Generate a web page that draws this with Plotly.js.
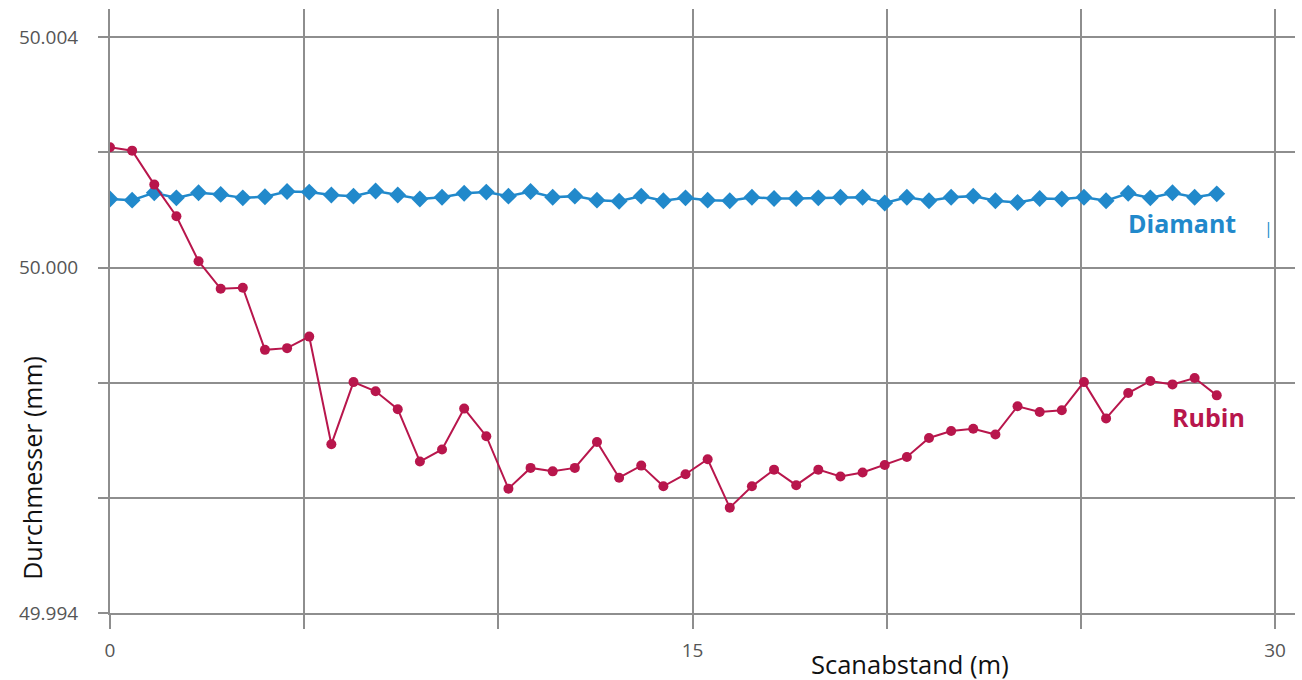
<!DOCTYPE html>
<html>
<head>
<meta charset="utf-8">
<script src="https://cdn.plot.ly/plotly-3.0.1.min.js"></script>
<style>
  html, body { margin: 0; padding: 0; background: #fff; }
  #chart { width: 1302px; height: 680px; }
</style>
</head>
<body>
<div id="chart"></div>
<script>
// Scan positions along the bore (m)
const scanDistance = [0, 0.57, 1.14, 1.71, 2.28, 2.85, 3.42, 3.99, 4.56, 5.13,
  5.7, 6.27, 6.84, 7.41, 7.98, 8.55, 9.12, 9.69, 10.26, 10.83,
  11.4, 11.97, 12.54, 13.11, 13.68, 14.25, 14.82, 15.39, 15.96, 16.53,
  17.1, 17.67, 18.24, 18.81, 19.38, 19.95, 20.52, 21.09, 21.66, 22.23,
  22.8, 23.37, 23.94, 24.51, 25.08, 25.65, 26.22, 26.79, 27.36, 27.93, 28.5];

// Measured diameter with the diamond stylus (mm)
const diamant = [50.00119, 50.00117, 50.00130, 50.00121, 50.00130, 50.00127, 50.00121, 50.00123, 50.00132, 50.00131,
  50.00126, 50.00124, 50.00133, 50.00126, 50.00119, 50.00122, 50.00129, 50.00131, 50.00124, 50.00132,
  50.00122, 50.00124, 50.00117, 50.00115, 50.00124, 50.00116, 50.00121, 50.00117, 50.00116, 50.00122,
  50.00120, 50.00120, 50.00121, 50.00122, 50.00122, 50.00112, 50.00122, 50.00116, 50.00122, 50.00124,
  50.00116, 50.00113, 50.00120, 50.00119, 50.00122, 50.00116, 50.00129, 50.00121, 50.00130, 50.00122, 50.00128];

// Measured diameter with the ruby stylus (mm)
const rubin = [50.00209, 50.00203, 50.00144, 50.00089, 50.00011, 49.99963, 49.99965, 49.99857, 49.99860, 49.99880,
  49.99693, 49.99801, 49.99785, 49.99754, 49.99663, 49.99684, 49.99755, 49.99707, 49.99616, 49.99652,
  49.99646, 49.99652, 49.99697, 49.99635, 49.99656, 49.99620, 49.99641, 49.99667, 49.99583, 49.99620,
  49.99649, 49.99622, 49.99649, 49.99637, 49.99644, 49.99657, 49.99671, 49.99704, 49.99716, 49.99720,
  49.99710, 49.99759, 49.99749, 49.99752, 49.99801, 49.99738, 49.99782, 49.99803, 49.99797, 49.99808, 49.99778];

// Axis ticks and labels
const xTickVals = [0, 5, 10, 15, 20, 25, 30];
const xTickText = ['0', '', '', '15', '', '', '30'];
const yTickVals = [49.994, 49.996, 49.998, 50.000, 50.002, 50.004];
const yTickText = ['49.994', '', '', '50.000', '', '50.004'];

const blue = '#2189cb';
const ruby = '#b8164c';
const grid = '#8e8e8e';
const font = 'Open Sans, Noto Sans, sans-serif';

const traces = [
  {
    x: scanDistance, y: diamant, name: 'Diamant',
    type: 'scatter', mode: 'lines+markers',
    line: { color: blue, width: 2.5 },
    marker: { symbol: 'diamond', size: 13, color: blue },
    hoverinfo: 'x+y'
  },
  {
    x: scanDistance, y: rubin, name: 'Rubin',
    type: 'scatter', mode: 'lines+markers',
    line: { color: ruby, width: 2 },
    marker: { symbol: 'circle', size: 10, color: ruby },
    hoverinfo: 'x+y'
  }
];

const layout = {
  width: 1302, height: 680,
  margin: { l: 110, r: 7, t: 9, b: 67, pad: 0 },
  paper_bgcolor: '#ffffff', plot_bgcolor: '#ffffff',
  showlegend: false,
  font: { family: font, color: '#555555', size: 19 },
  xaxis: {
    range: [0, 30.515],
    tickvals: xTickVals, ticktext: xTickText,
    ticks: 'outside', ticklen: 14, tickwidth: 2, tickcolor: grid,
    showgrid: true, gridcolor: grid, gridwidth: 2,
    zeroline: false,
    showline: true, linecolor: grid, linewidth: 2,
    ticklabelstandoff: 5,
    tickfont: { family: font, size: 19, color: '#555555' }
  },
  yaxis: {
    range: [49.994, 50.00449],
    tickvals: yTickVals, ticktext: yTickText,
    ticks: 'outside', ticklen: 10, tickwidth: 2, tickcolor: grid,
    showgrid: true, gridcolor: grid, gridwidth: 2,
    zeroline: false,
    showline: true, linecolor: grid, linewidth: 2,
    ticklabelstandoff: 16,
    tickfont: { family: font, size: 19, color: '#555555' }
  },
  annotations: [
    {
      text: 'Durchmesser (mm)', textangle: -90,
      xref: 'paper', yref: 'paper', x: -0.066, y: 0.24,
      xanchor: 'center', yanchor: 'middle', showarrow: false,
      font: { family: font, size: 25, color: '#111111' }
    },
    {
      text: 'Scanabstand (m)',
      xref: 'x', yref: 'paper', x: 20.6, y: -0.085,
      xanchor: 'center', yanchor: 'middle', showarrow: false,
      font: { family: font, size: 25.5, color: '#111111' }
    },
    {
      text: '<b>Diamant</b>',
      xref: 'x', yref: 'y', x: 27.61, y: 50.00077,
      xanchor: 'center', yanchor: 'middle', showarrow: false,
      font: { family: font, size: 25, color: blue }
    },
    {
      text: '|',
      xref: 'x', yref: 'y', x: 29.83, y: 50.00068,
      xanchor: 'center', yanchor: 'middle', showarrow: false,
      font: { family: font, size: 16, color: blue }
    },
    {
      text: '<b>Rubin</b>',
      xref: 'x', yref: 'y', x: 28.28, y: 49.99740,
      xanchor: 'center', yanchor: 'middle', showarrow: false,
      font: { family: font, size: 25, color: ruby }
    }
  ]
};

Plotly.newPlot('chart', traces, layout, { displayModeBar: false, staticPlot: true });
</script>
</body>
</html>
